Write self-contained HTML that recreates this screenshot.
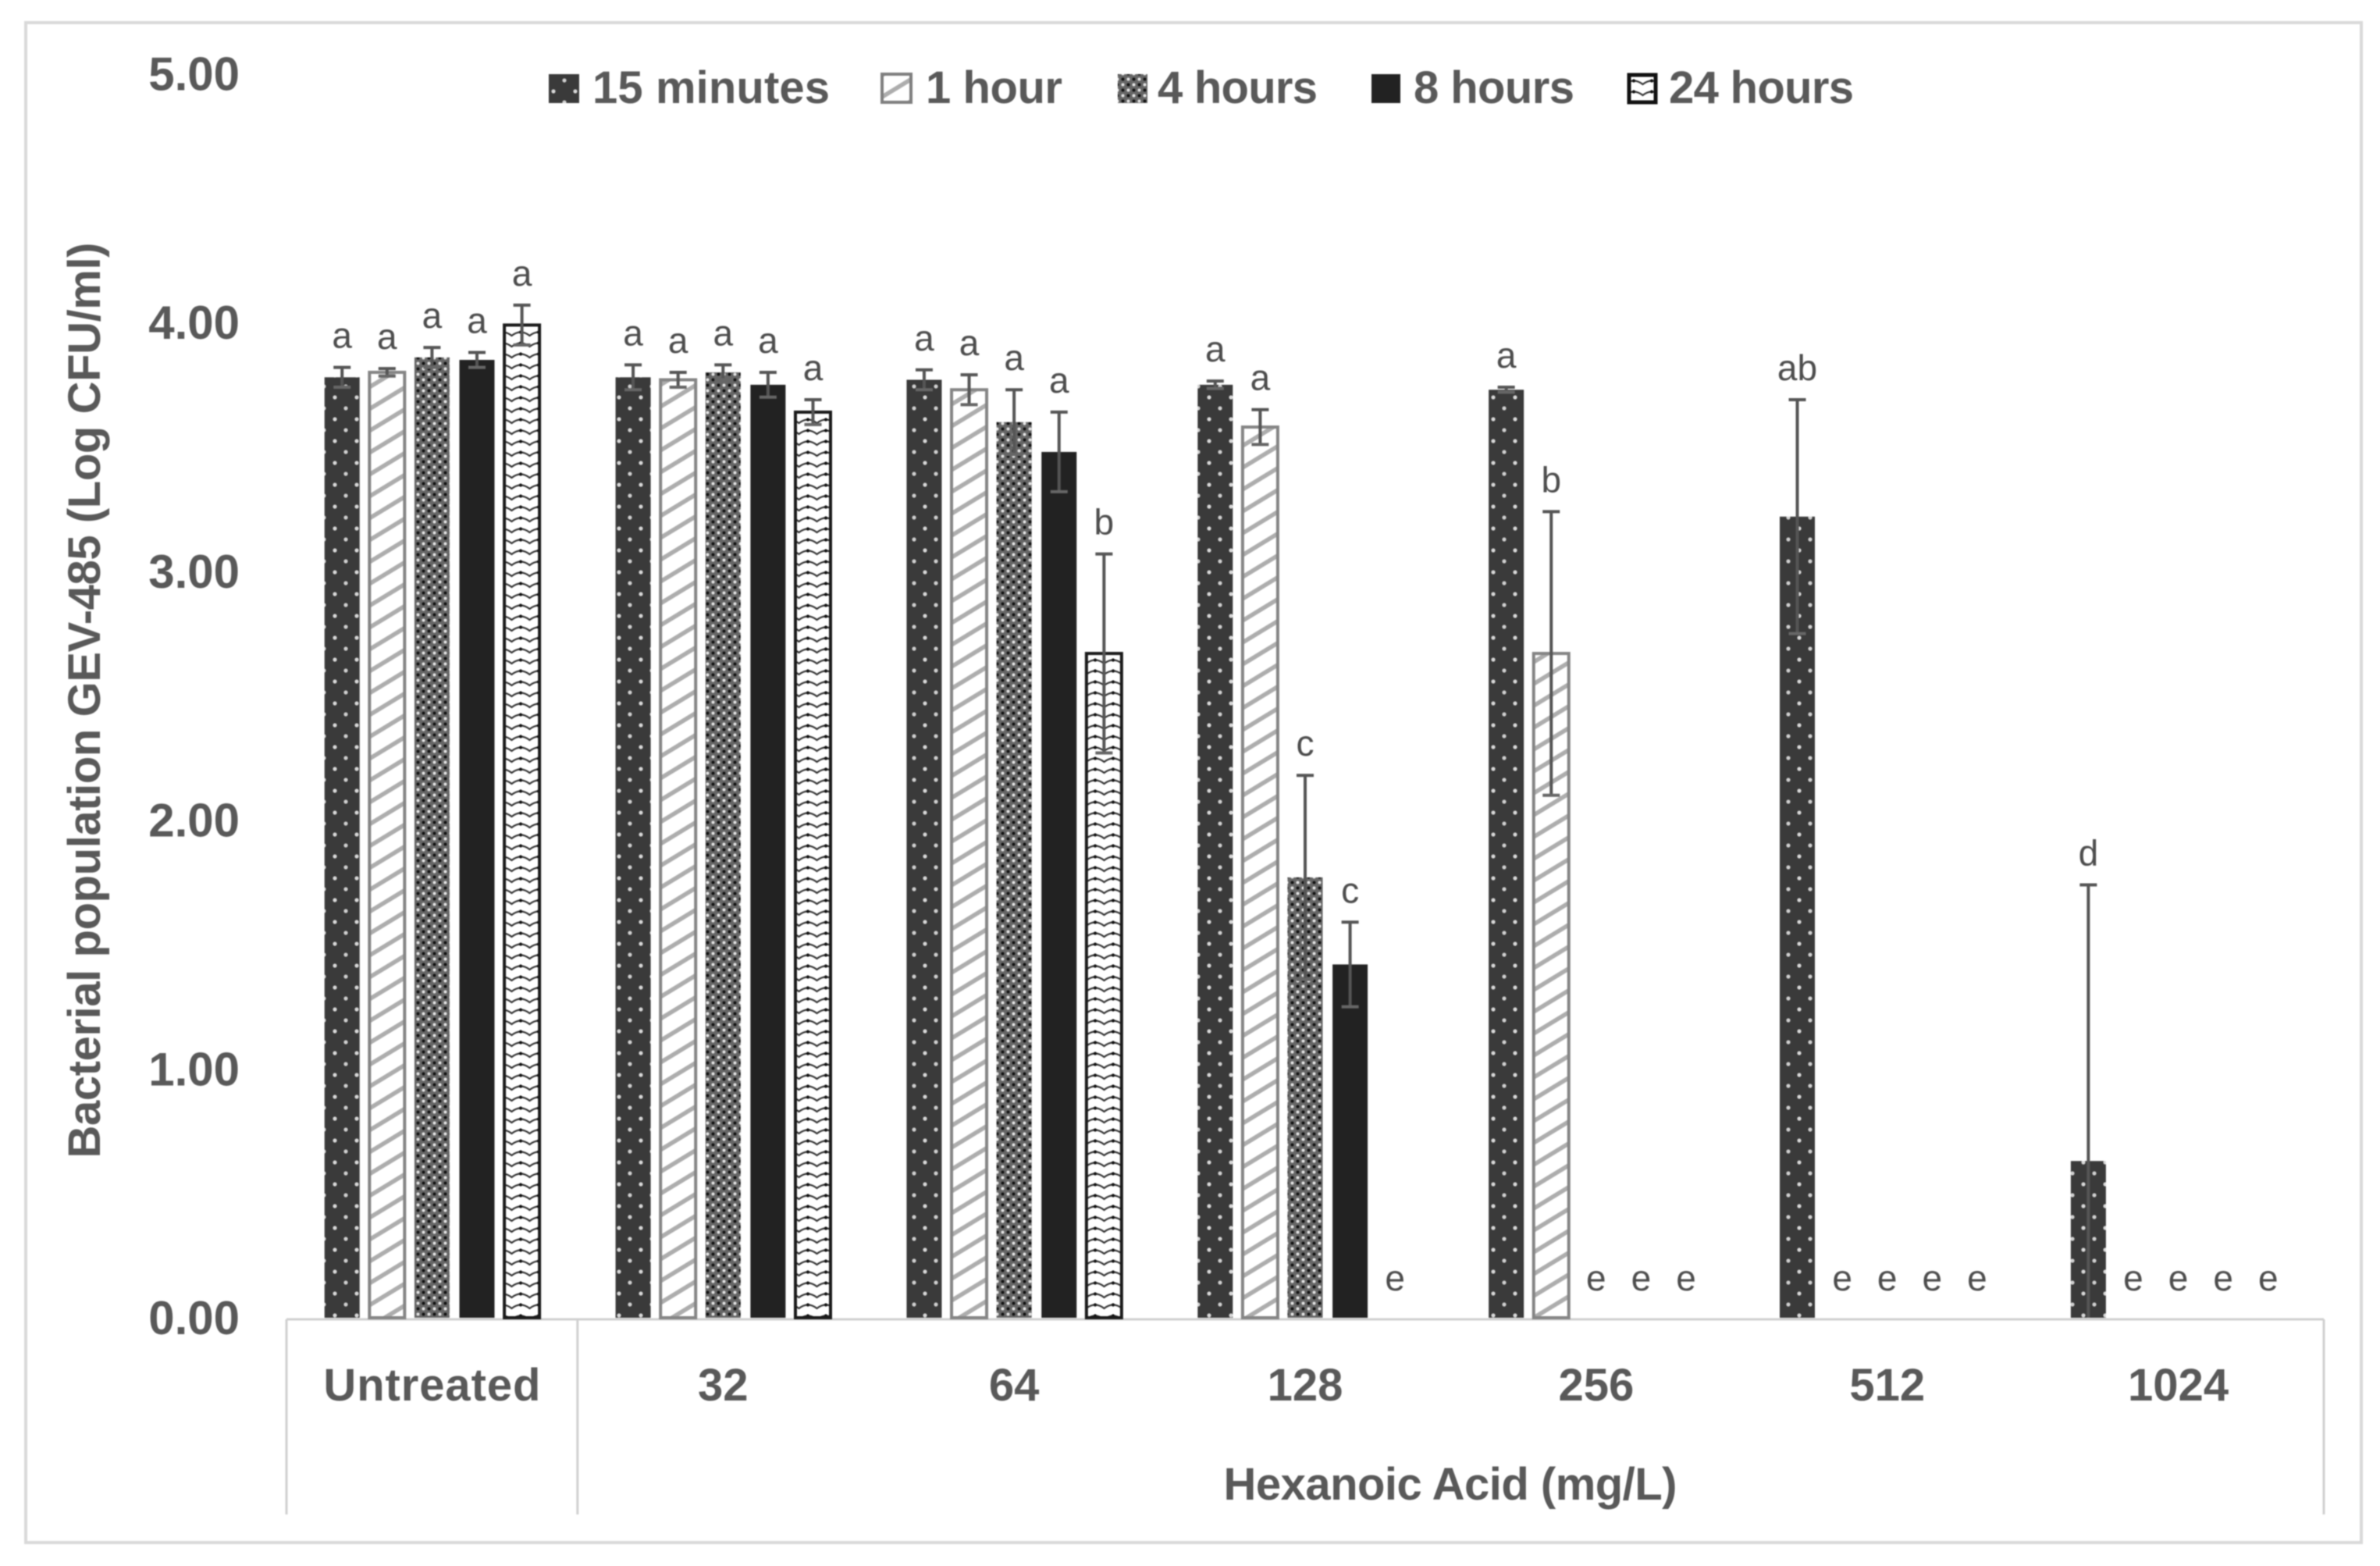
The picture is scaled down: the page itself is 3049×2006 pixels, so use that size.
<!DOCTYPE html>
<html>
<head>
<meta charset="utf-8">
<title>Bacterial population chart</title>
<style>
html,body{margin:0;padding:0;background:#fff;}
svg{display:block;filter:blur(0.9px);}
text{font-family:"Liberation Sans",sans-serif;fill:#595959;}
.b{font-weight:bold;font-size:58px;}
.t{font-weight:bold;font-size:60px;}
.l{font-size:46px;fill:#4d4d4d;}
</style>
</head>
<body>
<svg id="chart" width="3049" height="2006" viewBox="0 0 3049 2006" xmlns="http://www.w3.org/2000/svg">
<defs>
<pattern id="p15" patternUnits="userSpaceOnUse" width="28" height="28" x="4" y="0">
<rect width="28" height="28" fill="#3a3a3a"/>
<circle cx="5" cy="5" r="2.6" fill="#d8d8d8"/>
<circle cx="19" cy="19" r="2.6" fill="#cfcfcf"/>
</pattern>
<pattern id="p1h" patternUnits="userSpaceOnUse" width="46" height="28">
<rect width="46" height="28" fill="#fff"/>
<path d="M-23 42 L69 -14 M-23 14 L23 -14 M23 42 L69 14" stroke="#adadad" stroke-width="5.5" fill="none"/>
</pattern>
<pattern id="p4h" patternUnits="userSpaceOnUse" width="14" height="14">
<rect width="14" height="14" fill="#666"/>
<circle cx="3.5" cy="3.5" r="2" fill="#e4e4e4"/>
<circle cx="10.5" cy="10.5" r="2" fill="#e4e4e4"/>
<circle cx="10.5" cy="3.5" r="2" fill="#111"/>
<circle cx="3.5" cy="10.5" r="2" fill="#111"/>
</pattern>
<pattern id="p24" patternUnits="userSpaceOnUse" width="23" height="14">
<rect width="23" height="14" fill="#fff"/>
<path d="M-11.5 10 Q0 1 11.5 10 Q23 1 34.5 10" fill="none" stroke="#333" stroke-width="2.2"/>
<circle cx="0" cy="5.5" r="2.1" fill="#111"/>
<circle cx="23" cy="5.5" r="2.1" fill="#111"/>
</pattern>
</defs>
<rect width="3049" height="2006" fill="#fff"/>
<rect x="33" y="29" width="2992" height="1947" fill="none" stroke="#d9d9d9" stroke-width="4"/>

<g id="axis"></g>
<g id="ticks"></g>
<g id="bars"></g>
<g id="errors"></g>
<g id="letters"></g>
<g id="cats"></g>

<text class="b" text-anchor="middle" transform="translate(128,897) rotate(-90)" textLength="1173">Bacterial population GEV-485 (Log CFU/ml)</text>
<text class="b" x="1858" y="1921" text-anchor="middle" textLength="581">Hexanoic Acid (mg/L)</text>

<g>
<g>
<rect x="703" y="95" width="39" height="37" fill="url(#p15)"/>
<text class="b" x="759" y="132" textLength="304">15 minutes</text>
</g>
<g>
<rect x="1130" y="95" width="37" height="36" fill="url(#p1h)" stroke="#7f7f7f" stroke-width="4"/>
<text class="b" x="1186" y="132" textLength="175">1 hour</text>
</g>
<g>
<rect x="1432" y="95" width="38" height="37" fill="url(#p4h)"/>
<text class="b" x="1483" y="132" textLength="205">4 hours</text>
</g>
<g>
<rect x="1757" y="95" width="37" height="37" fill="#222"/>
<text class="b" x="1811" y="132" textLength="206">8 hours</text>
</g>
<g>
<rect x="2087" y="96" width="34" height="35" fill="url(#p24)" stroke="#111" stroke-width="5"/>
<text class="b" x="2138" y="132" textLength="237">24 hours</text>
</g>
</g>
</svg>

<script>
const categories = ["Untreated", "32", "64", "128", "256", "512", "1024"];
const yTicks = ["0.00", "1.00", "2.00", "3.00", "4.00", "5.00"];
const seriesNames = ["15-minutes", "1-hour", "4-hours", "8-hours", "24-hours"];

const values15min = [3.78, 3.78, 3.77, 3.75, 3.73, 3.22, 0.63];
const values1h = [3.80, 3.77, 3.73, 3.58, 2.67, 0, 0];
const values4h = [3.86, 3.80, 3.60, 1.77, 0, 0, 0];
const values8h = [3.85, 3.75, 3.48, 1.42, 0, 0, 0];
const values24h = [3.99, 3.64, 2.67, 0, 0, 0, 0];

const errors15min = [0.04, 0.05, 0.04, 0.015, 0.01, 0.47, 1.11];
const errors1h = [0.015, 0.03, 0.06, 0.07, 0.57, 0, 0];
const errors4h = [0.04, 0.03, 0.13, 0.41, 0, 0, 0];
const errors8h = [0.03, 0.05, 0.16, 0.17, 0, 0, 0];
const errors24h = [0.08, 0.05, 0.40, 0, 0, 0, 0];

const letters15min = ["a", "a", "a", "a", "a", "ab", "d"];
const letters1h = ["a", "a", "a", "a", "b", "e", "e"];
const letters4h = ["a", "a", "a", "c", "e", "e", "e"];
const letters8h = ["a", "a", "a", "c", "e", "e", "e"];
const letters24h = ["a", "a", "b", "e", "e", "e", "e"];

const allValues = [values15min, values1h, values4h, values8h, values24h];
const allErrors = [errors15min, errors1h, errors4h, errors8h, errors24h];
const allLetters = [letters15min, letters1h, letters4h, letters8h, letters24h];

const NS = "http://www.w3.org/2000/svg";
const plotLeft = 367, plotRight = 2977, baseY = 1688, unitH = 318.7, axisBottom = 1940;
const catW = (plotRight - plotLeft) / categories.length;
const barStep = 57.6;

function yPos(v) { return baseY - unitH * v; }
function catCenter(c) { return plotLeft + catW * (c + 0.5); }
function barCenter(c, s) { return catCenter(c) + (s - 2) * barStep; }

function styleBar(r, s) {
  if (s === 0) { r.setAttribute("fill", "url(#p15)"); }
  if (s === 1) { r.setAttribute("fill", "url(#p1h)"); r.setAttribute("stroke", "#858585"); r.setAttribute("stroke-width", "4"); }
  if (s === 2) { r.setAttribute("fill", "url(#p4h)"); }
  if (s === 3) { r.setAttribute("fill", "#222"); }
  if (s === 4) { r.setAttribute("fill", "url(#p24)"); r.setAttribute("stroke", "#1a1a1a"); r.setAttribute("stroke-width", "4"); }
}

function line(parent, x1, y1, x2, y2, stroke, width) {
  const l = document.createElementNS(NS, "line");
  l.setAttribute("x1", x1);
  l.setAttribute("y1", y1);
  l.setAttribute("x2", x2);
  l.setAttribute("y2", y2);
  l.setAttribute("stroke", stroke);
  l.setAttribute("stroke-width", width);
  parent.appendChild(l);
  return l;
}

const axisG = document.getElementById("axis");
const axisLine = line(axisG, plotLeft, baseY + 2, plotRight, baseY + 2, "#d0d0d0", 3);


const sepLeft = line(axisG, plotLeft, baseY + 2, plotLeft, axisBottom, "#d0d0d0", 3);


const sepMid = line(axisG, plotLeft + catW, baseY + 2, plotLeft + catW, axisBottom, "#d0d0d0", 3);


const sepRight = line(axisG, plotRight, baseY + 2, plotRight, axisBottom, "#d0d0d0", 3);



const ticksG = document.getElementById("ticks");
yTicks.forEach(function (t) {
  const el = document.createElementNS(NS, "text");
  el.setAttribute("class", "t");
  el.setAttribute("x", 307);
  el.setAttribute("y", yPos(parseFloat(t)) + 21);
  el.setAttribute("text-anchor", "end");
  
  
  el.textContent = t;
  ticksG.appendChild(el);
});

const catsG = document.getElementById("cats");
categories.forEach(function (name, c) {
  const el = document.createElementNS(NS, "text");
  el.setAttribute("class", "b");
  el.setAttribute("x", catCenter(c));
  el.setAttribute("y", 1794);
  el.setAttribute("text-anchor", "middle");
  if (c === 0) {
    el.setAttribute("textLength", 278);
  }
  
  
  el.textContent = name;
  catsG.appendChild(el);
});

const barsG = document.getElementById("bars");
const errorsG = document.getElementById("errors");
const lettersG = document.getElementById("letters");

allValues.forEach(function (vals, s) {
  vals.forEach(function (v, c) {
    const cx = barCenter(c, s);
    const barW = 45;
    if (v > 0) {
      const r = document.createElementNS(NS, "rect");
      r.setAttribute("x", cx - barW / 2);
      r.setAttribute("y", yPos(v));
      r.setAttribute("width", barW);
      r.setAttribute("height", baseY - yPos(v));
      styleBar(r, s);
      
      
      r.setAttribute("data-series", seriesNames[s]);
      r.setAttribute("data-category", categories[c]);
      barsG.appendChild(r);

      const e = allErrors[s][c];
      const hi = v + e;
      const lo = Math.max(0, v - e);
      const g = document.createElementNS(NS, "g");
      
      
      line(g, cx, yPos(hi), cx, yPos(lo), "#555", 4);
      line(g, cx - 11, yPos(hi), cx + 11, yPos(hi), "#555", 4);
      if (v - e > 0) {
        line(g, cx - 11, yPos(lo), cx + 11, yPos(lo), "#666", 4);
      }
      errorsG.appendChild(g);
    }
    const t = document.createElementNS(NS, "text");
    const centerY = v > 0 ? yPos(v + allErrors[s][c]) - 37 : baseY - 47;
    t.setAttribute("class", "l");
    t.setAttribute("x", cx);
    t.setAttribute("y", centerY + 12);
    t.setAttribute("text-anchor", "middle");
    
    
    t.textContent = allLetters[s][c];
    lettersG.appendChild(t);
  });
});
</script>
</body>
</html>
